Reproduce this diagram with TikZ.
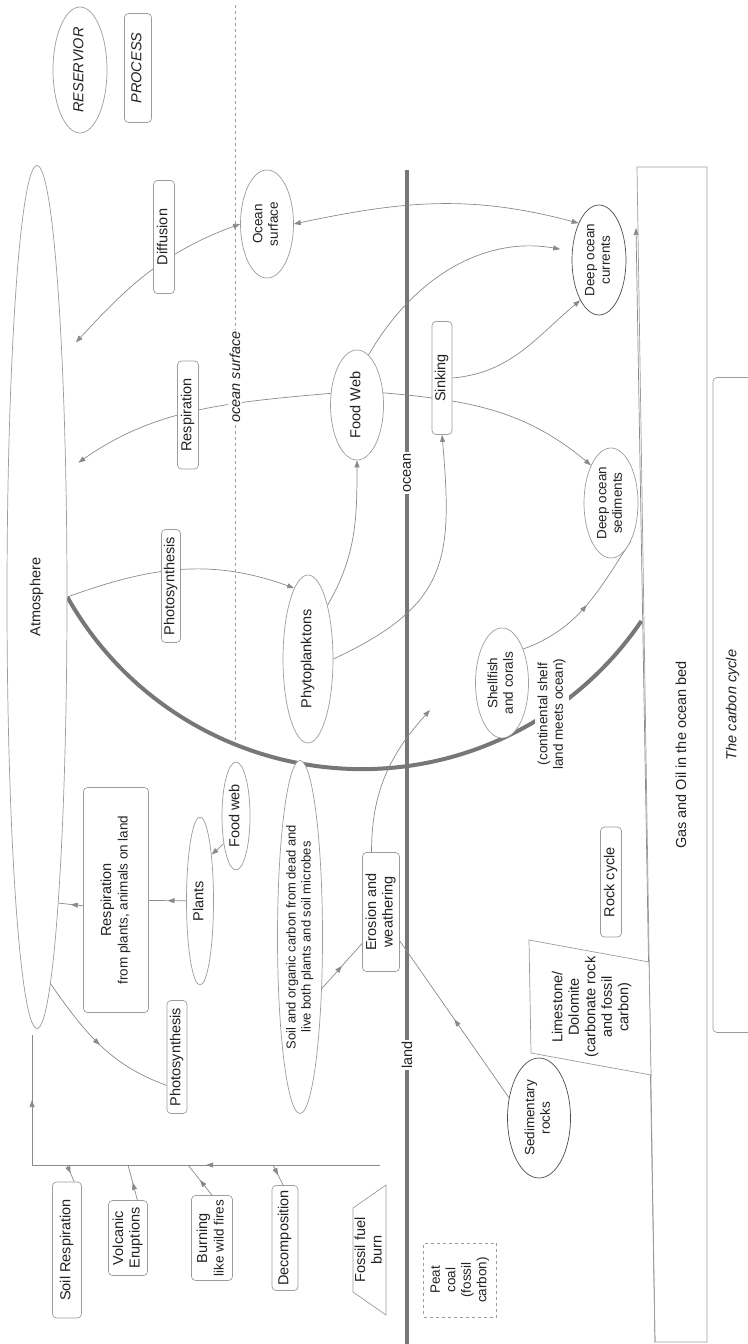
\documentclass[tikz,border=0pt]{standalone}
\usepackage{fontspec}
\setmainfont{Liberation Sans}
\usepackage{graphicx}
\usepackage{tikz}
\usetikzlibrary{arrows.meta,shapes.geometric,decorations.markings}
\definecolor{linegray}{HTML}{8A8A8A}
\definecolor{boxgray}{HTML}{9C9C9C}
\definecolor{thickgray}{HTML}{777777}
\definecolor{txt}{HTML}{222222}
\pgfdeclarelayer{back}
\pgfsetlayers{back,main}
\newcommand{\vtext}[1]{\rotatebox{90}{\begin{tabular}{@{}c@{}}#1\end{tabular}}}
\newcommand{\smalltxt}{\fontsize{13.5}{15.5}\selectfont}
\tikzset{
    flow/.style={-{Triangle[length=7pt, width=5pt]}, line width=0.7pt, draw=linegray},
    twoway/.style={{Triangle[length=7pt, width=5pt]}-{Triangle[length=7pt, width=5pt]}, line width=0.7pt, draw=linegray},
    midflow/.style={line width=0.7pt, draw=linegray, postaction={decorate}, decoration={markings, mark=at position #1 with {\arrow{Triangle[length=7pt, width=5pt]}}}},
    midflow/.default=0.5,
    reservoir/.style={draw=boxgray, ellipse, fill=white, inner sep=1pt, line width=0.7pt},
    process/.style={draw=boxgray, rounded corners=4pt, fill=white, inner sep=1pt, line width=0.7pt},
    border/.style={line width=4pt, draw=thickgray},
    tag/.style={fill=white, rotate=90, inner sep=1.5pt}
}

\begin{document}
\begin{tikzpicture}[x=1pt, y=1pt, font=\fontsize{14.5}{16.5}\selectfont, text=txt]
    \useasboundingbox (0,0) rectangle (747,-1344);
    \node[reservoir, minimum width=54, minimum height=126] (resv) at (80,-70) {\vtext{\itshape RESERVIOR}};
    \node[process, minimum width=27, minimum height=109] (proc) at (138,-68) {\vtext{\itshape PROCESS}};

    \node[reservoir, minimum width=60, minimum height=863] (atm) at (37,-597) {\vtext{Atmosphere}};
    \node[reservoir, minimum width=53, minimum height=108, font=\smalltxt] (osurf) at (267,-224) {\vtext{Ocean\\surface}};
    \node[reservoir, minimum width=53, minimum height=110] (fweb) at (357,-405) {\vtext{Food Web}};
    \node[reservoir, minimum width=50, minimum height=168] (phyto) at (308,-659) {\vtext{Phytoplanktons}};
    \node[reservoir, draw=black!70, minimum width=54, minimum height=110, font=\smalltxt] (dcur) at (599,-260) {\vtext{Deep ocean\\currents}};
    \node[reservoir, minimum width=54, minimum height=110, font=\smalltxt] (dsed) at (611,-503) {\vtext{Deep ocean\\sediments}};
    \node[reservoir, minimum width=53, minimum height=110, font=\smalltxt] (shell) at (502,-683) {\vtext{Shellfish\\and corals}};
    \node[reservoir, minimum width=45, minimum height=353, inner sep=0pt, font=\fontsize{13}{15}\selectfont] (soil) at (300,-937) {\vtext{Soil and organic carbon from dead and\\live both  plants and soil microbes}};
    \node[reservoir, minimum width=27, minimum height=168, inner sep=0pt] (plants) at (200,-901) {\vtext{Plants}};
    \node[reservoir, minimum width=28, minimum height=108, inner sep=0pt] (lweb) at (236,-816) {\vtext{Food web}};
    \node[reservoir, draw=black!70, minimum width=63, minimum height=120, font=\smalltxt] (sed) at (539,-1118) {\vtext{Sedimentary\\rocks}};

    \node[process, minimum width=21, minimum height=113] (diff) at (164,-237) {\vtext{Diffusion}};
    \node[process, minimum width=21, minimum height=108] (oresp) at (188,-415) {\vtext{Respiration}};
    \node[process, minimum width=19, minimum height=113] (ophoto) at (171,-586) {\vtext{Photosynthesis}};
    \node[process, minimum width=20, minimum height=113] (sink) at (442,-378) {\vtext{Sinking}};
    \node[process, minimum width=65, minimum height=225] (lresp) at (116,-900) {\vtext{Respiration\\{\smalltxt from plants,  animals on land}}};
    \node[process, minimum width=20, minimum height=113] (lphoto) at (177,-1057) {\vtext{Photosynthesis}};
    \node[process, minimum width=37, minimum height=119] (eros) at (381,-912) {\vtext{Erosion and\\weathering}};
    \node[process, minimum width=21, minimum height=110] (rock) at (611,-882) {\vtext{Rock cycle}};
    \node[process, minimum width=29, minimum height=136] (soilr) at (67,-1250) {\vtext{Soil Respiration}};
    \node[process, minimum width=39, minimum height=75] (volc) at (128,-1238) {\vtext{Volcanic\\Eruptions}};
    \node[process, minimum width=41, minimum height=85] (burn) at (212,-1238) {\vtext{Burning\\{\smalltxt like wild fires}}};
    \node[process, minimum width=26, minimum height=105] (decomp) at (285,-1238) {\vtext{Decomposition}};
    \node[process, minimum width=40, minimum height=655] (title) at (733,-705) {\vtext{\itshape The carbon cycle}};
    \node[draw=boxgray, dashed, fill=white, minimum width=73, minimum height=74, inner sep=1pt, font=\smalltxt] (peat) at (460,-1280) {\vtext{Peat\\coal\\(fossil\\carbon)}};

    \draw[draw=boxgray, line width=0.7pt] (637,-167) -- (707,-167) -- (707,-1342) -- (655,-1342) -- cycle;
    \draw[draw=boxgray, line width=0.7pt, fill=white] (529,-940) -- (649,-962) -- (651,-1075) -- (531,-1053) -- cycle;
    \draw[draw=boxgray, line width=0.7pt, fill=white] (353,-1208) -- (386,-1185) -- (386,-1315) -- (353,-1292) -- cycle;
    \node (lime) at (592,-1007) {\vtext{Limestone/\\Dolomite\\(carbonate rock\\and fossil\\carbon)}};
    \node (fossil) at (370,-1250) {\vtext{Fossil fuel\\burn}};

    \coordinate (erotip) at (430,-710);
    \coordinate (cup) at (32,-1035);
    \coordinate (ccorner) at (32,-1165);
    \coordinate (cend) at (380,-1165);
    \coordinate (j1) at (67,-1165);
    \coordinate (j2) at (128,-1165);
    \coordinate (j3) at (188,-1165);
    \coordinate (j4) at (273,-1165);
    \coordinate (gtip) at (636,-228);
    \coordinate (gfoot) at (655,-1342);

    \begin{pgfonlayer}{back}
        \draw[border] (407,-170) -- (407,-1344);
        \draw[border] (atm.0) arc[start angle=209.4, end angle=325.8, radius=338];
        \draw[dashed, draw=boxgray, line width=0.6pt] (235,-5) -- (235,-740);
        \draw[flow] (atm.0) to[out=20,in=160] (phyto.101);
        \draw[flow] (phyto.70) to[out=60,in=270] (fweb.270);
        \draw[flow] (phyto.0) to[out=25,in=275, looseness=1.3] (sink.270);
        \draw[flow, shorten >=15pt] (fweb.156) to[out=185,in=35] (atm.77);
        \draw[flow] (fweb.25) to[out=-5,in=140] (dsed.118);
        \draw[flow, shorten >=12pt] (fweb.77) to[out=60,in=170] (dcur.162);
        \draw[flow] (sink.0) to[out=5,in=220] (dcur.245);
        \draw[twoway] (osurf.0) to[out=12,in=165] (dcur.119);
        \draw[twoway, shorten >=20pt] (osurf.180) to[out=200,in=47] (atm.84);
        \draw[flow] (eros.99) to[out=90,in=228] (erotip);
        \draw[midflow] (soil.293) -- (eros.239);
        \draw[midflow] (sed.146) -- (eros.303);
        \draw[midflow] (shell.58) to[out=20,in=237] (dsed.298);
        \draw[midflow] (atm.272) to[out=-55,in=160] (lphoto.250);
        \draw[midflow] (lresp.190) -- (atm.274);
        \draw[midflow] (plants) -- (lresp);
        \draw[flow] (lweb.246) -- (plants.76);
        \draw[midflow] (cend) -- (ccorner);
        \draw[midflow] (ccorner) -- (cup);
        \draw[midflow] (j1) -- (soilr.84);
        \draw[midflow] (volc.76) -- (j2);
        \draw[midflow] (burn.90) -- (j3);
        \draw[midflow] (j4) -- (decomp.92);
        \draw[flow] (gfoot) -- (gtip);
    \end{pgfonlayer}

    \node[tag, font=\fontsize{14.5}{16.5}\selectfont\itshape] (oslabel) at (235,-377) {ocean surface};
    \node[tag] (oclabel) at (407,-473) {ocean};
    \node[tag] (lalabel) at (407,-1055) {land};
    \node[tag, font=\smalltxt] (shelf) at (552,-714) {\begin{tabular}{@{}c@{}}(continental shelf\\land meets ocean)\end{tabular}};
    \node[tag, fill=none] (gas) at (681,-755) {Gas and Oil in the ocean bed};
\end{tikzpicture}
\end{document}
